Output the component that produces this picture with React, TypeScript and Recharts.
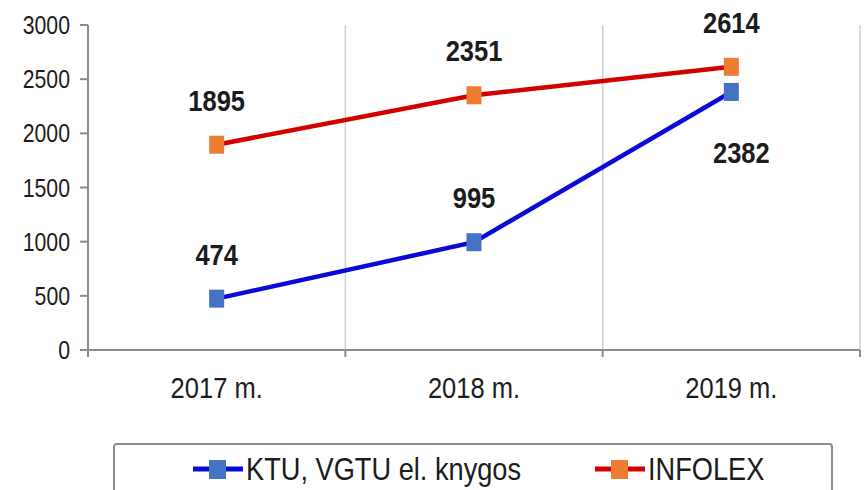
import React from "react";
import {
  CartesianGrid,
  LabelList,
  Legend,
  Line,
  LineChart,
  XAxis,
  YAxis,
} from "recharts";

const years = ["2017 m.", "2018 m.", "2019 m."];
const ktuValues = [474, 995, 2382];
const infolexValues = [1895, 2351, 2614];
const yTicks = [0, 500, 1000, 1500, 2000, 2500, 3000];

const series = [
  { key: "ktu", name: "KTU, VGTU el. knygos", line: "#0a0ad6", marker: "#4472c4" },
  { key: "infolex", name: "INFOLEX", line: "#d40000", marker: "#ed7d31" },
];

const data = years.map((year, i) => ({
  year,
  ktu: ktuValues[i],
  infolex: infolexValues[i],
}));

const FONT = "'Liberation Sans', Arial, sans-serif";
const SQUEEZE = 0.85; // the source text is a narrow face
const TEXT = "#1c1c1c";
const AXIS = "#8c8c8c";

function NarrowText({ x, y, size, bold, anchor, children }: any) {
  return (
    <text
      transform={`translate(${x},${y}) scale(${SQUEEZE},1)`}
      textAnchor={anchor}
      fontSize={size}
      fontWeight={bold ? "bold" : "normal"}
      fill={TEXT}
      fontFamily={FONT}
    >
      {children}
    </text>
  );
}

// category label plus a tick mark on the band edges (like the original Excel chart)
function YearTick(props: any) {
  const { x, y, payload, index } = props;
  const half = payload.offset ?? 0;
  return (
    <g>
      {index === 0 && (
        <line x1={x - half} x2={x - half} y1={y} y2={y + 7} stroke={AXIS} strokeWidth={2} />
      )}
      <line x1={x + half} x2={x + half} y1={y} y2={y + 7} stroke={AXIS} strokeWidth={2} />
      <NarrowText x={x} y={y + 48} size={30} anchor="middle">
        {payload.value}
      </NarrowText>
    </g>
  );
}

function ValueTick(props: any) {
  const { x, y, payload } = props;
  return (
    <NarrowText x={x} y={y + 9} size={25} anchor="end">
      {payload.value}
    </NarrowText>
  );
}

function squareDot(color: string) {
  return (props: any) => (
    <rect
      key={`dot-${props.index}`}
      x={props.cx - 7.5}
      y={props.cy - 9}
      width={15}
      height={18}
      fill={color}
    />
  );
}

function valueLabel(belowLast: boolean) {
  return (props: any) => {
    const { x, y, value, index } = props;
    const below = belowLast && index === years.length - 1;
    return (
      <NarrowText
        x={below ? x + 10 : x}
        y={below ? y + 71 : y - 34}
        size={30}
        bold
        anchor="middle"
      >
        {value}
      </NarrowText>
    );
  };
}

function LegendBox() {
  return (
    <div
      style={{
        boxSizing: "border-box",
        width: 720,
        height: 60,
        border: `2px solid ${AXIS}`,
        borderRadius: 4,
        display: "flex",
        alignItems: "flex-start",
        paddingTop: 6,
        paddingLeft: 78,
        fontFamily: FONT,
        fontSize: 32,
        color: TEXT,
      }}
    >
      {series.map((s, i) => (
        <div
          key={s.key}
          style={{
            display: "flex",
            alignItems: "center",
            width: i === 0 ? 402 : "auto",
          }}
        >
          <svg width={50} height={24} style={{ marginRight: 3, flexShrink: 0 }}>
            <line x1={0} x2={50} y1={12} y2={12} stroke={s.line} strokeWidth={5} />
            <rect x={16} y={3} width={17} height={19} fill={s.marker} />
          </svg>
          <span
            style={{
              lineHeight: "36px",
              whiteSpace: "nowrap",
              display: "inline-block",
              transform: `scaleX(${SQUEEZE})`,
              transformOrigin: "left center",
            }}
          >
            {s.name}
          </span>
        </div>
      ))}
    </div>
  );
}

export default function App() {
  return (
    <div
      style={{
        position: "absolute",
        left: 0,
        top: 0,
        width: 868,
        height: 490,
        overflow: "hidden",
        background: "#fff",
      }}
    >
      <LineChart
        width={868}
        height={490}
        data={data}
        margin={{ top: 25, right: 8, left: 0, bottom: 30 }}
      >
        <CartesianGrid
          horizontal={false}
          stroke="#cfcfcf"
          strokeWidth={1.5}
          verticalCoordinatesGenerator={({ offset }: any) =>
            years.map((_, i) => offset.left + (offset.width * (i + 1)) / years.length)
          }
        />
        <XAxis
          dataKey="year"
          scale="band"
          interval={0}
          height={50}
          tickSize={0}
          tickMargin={0}
          tickLine={false}
          axisLine={{ stroke: AXIS, strokeWidth: 2 }}
          tick={<YearTick />}
        />
        <YAxis
          width={88}
          domain={[0, 3000]}
          ticks={yTicks}
          interval={0}
          tickSize={8}
          tickMargin={10}
          axisLine={{ stroke: AXIS, strokeWidth: 2 }}
          tickLine={{ stroke: AXIS, strokeWidth: 2 }}
          tick={<ValueTick />}
        />
        <Legend
          verticalAlign="bottom"
          wrapperStyle={{ position: "absolute", left: 113, top: 443, width: 720, height: 60 }}
          content={() => <LegendBox />}
        />
        {series.map((s) => (
          <Line
            key={s.key}
            type="linear"
            dataKey={s.key}
            name={s.name}
            stroke={s.line}
            strokeWidth={4.5}
            dot={squareDot(s.marker)}
            activeDot={false}
            isAnimationActive={false}
          >
            <LabelList dataKey={s.key} content={valueLabel(s.key === "ktu")} />
          </Line>
        ))}
      </LineChart>
    </div>
  );
}
